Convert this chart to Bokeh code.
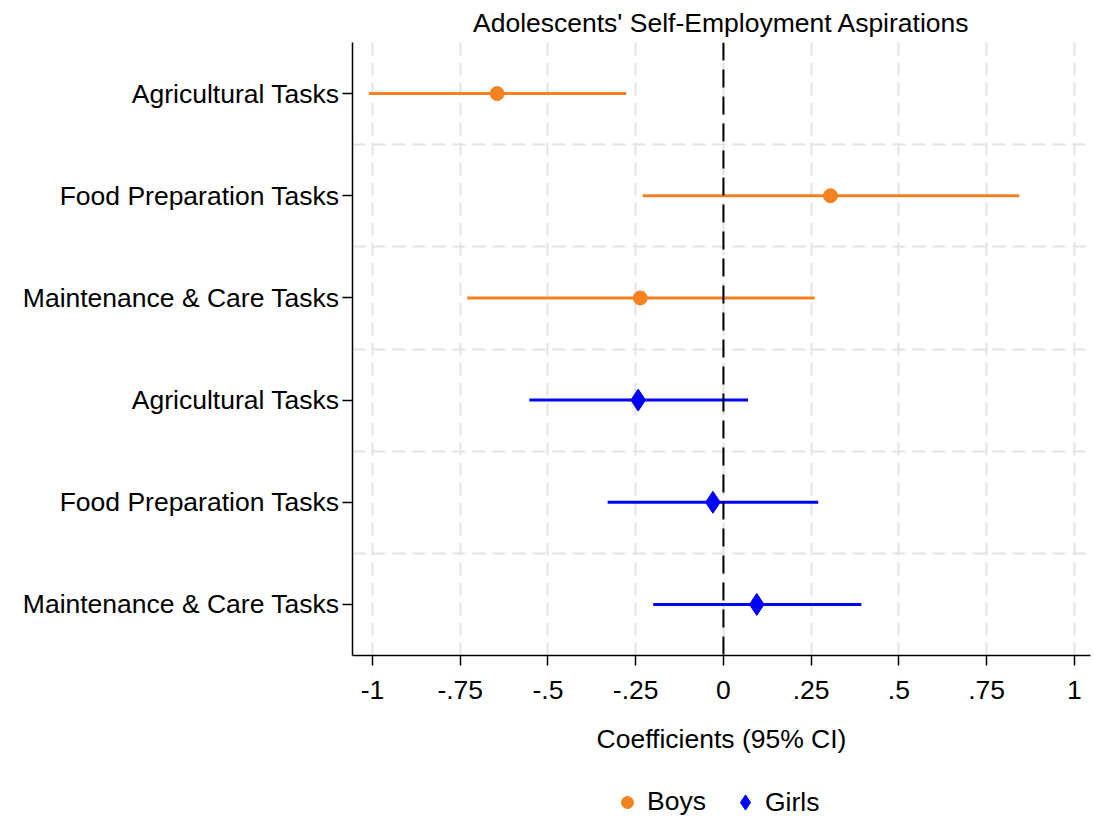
from bokeh.plotting import figure
from bokeh.layouts import column
from bokeh.models import Range1d, FixedTicker, Span, Legend, LegendItem
from bokeh.embed import file_html
from bokeh.resources import INLINE

# ---- data ----
categories = ["Agricultural Tasks", "Food Preparation Tasks", "Maintenance & Care Tasks"]
boys_coef = [-0.645, 0.305, -0.237]
boys_lo = [-1.01, -0.23, -0.73]
boys_hi = [-0.277, 0.843, 0.26]
girls_coef = [-0.243, -0.030, 0.095]
girls_lo = [-0.553, -0.330, -0.200]
girls_hi = [0.070, 0.270, 0.393]
x_ticks = [-1, -0.75, -0.5, -0.25, 0, 0.25, 0.5, 0.75, 1]
x_tick_labels = ["-1", "-.75", "-.5", "-.25", "0", ".25", ".5", ".75", "1"]

FONT = "Liberation Sans"
FS = "26.5px"
ORANGE = "#f58220"
BLUE = "#0000ff"
GRID = "#e3e3e3"

n = len(categories)
boys_y = [2 * n - i for i in range(n)]        # 6,5,4
girls_y = [n - i for i in range(n)]           # 3,2,1

p = figure(frame_width=738, frame_height=613, output_backend="svg", toolbar_location=None,
           x_range=Range1d(-1.057, 1.046), y_range=Range1d(0.5, 6.5),
           min_border_left=352, min_border_right=4, min_border_top=42, min_border_bottom=110)
p.outline_line_color = None
p.background_fill_color = "white"
p.border_fill_color = "white"

p.title.text = "Adolescents' Self-Employment Aspirations"
p.title.align = "center"
p.title.text_font = FONT
p.title.text_font_size = FS
p.title.text_font_style = "normal"
p.title.text_color = "black"
p.title.standoff = 10

# grids
p.xgrid.ticker = FixedTicker(ticks=x_ticks)
p.xgrid.grid_line_color = GRID
p.xgrid.grid_line_width = 2
p.xgrid.grid_line_dash = "13 7"
p.ygrid.ticker = FixedTicker(ticks=[1.5, 2.5, 3.5, 4.5, 5.5])
p.ygrid.grid_line_color = GRID
p.ygrid.grid_line_width = 2
p.ygrid.grid_line_dash = "13 7"

# axes
xa = p.xaxis[0]
xa.ticker = FixedTicker(ticks=x_ticks)
xa.major_label_overrides = dict(zip(x_ticks, x_tick_labels))
xa.axis_label = "Coefficients (95% CI)"
xa.axis_label_text_font = FONT
xa.axis_label_text_font_size = FS
xa.axis_label_text_font_style = "normal"
xa.axis_label_text_color = "black"
xa.axis_label_standoff = 22
xa.major_label_text_font = FONT
xa.major_label_text_font_size = FS
xa.major_label_text_color = "black"
xa.major_label_standoff = 15
xa.major_tick_out = 10
xa.major_tick_in = 0
xa.minor_tick_out = 0
xa.minor_tick_in = 0
xa.axis_line_width = 1.5
xa.major_tick_line_width = 1.5

ya = p.yaxis[0]
ya.ticker = FixedTicker(ticks=boys_y + girls_y)
ya.major_label_overrides = {**{y: c for y, c in zip(boys_y, categories)},
                            **{y: c for y, c in zip(girls_y, categories)}}
ya.major_label_text_font = FONT
ya.major_label_text_font_size = FS
ya.major_label_text_color = "black"
ya.major_label_standoff = 3
ya.major_tick_out = 10
ya.major_tick_in = 0
ya.minor_tick_out = 0
ya.minor_tick_in = 0
ya.axis_line_width = 1.5
ya.major_tick_line_width = 1.5

# zero line
p.add_layout(Span(location=0, dimension="height", line_color="black",
                  line_width=2, line_dash="18 9"))

# CIs
p.segment(x0=boys_lo, x1=boys_hi, y0=boys_y, y1=boys_y, line_color=ORANGE, line_width=3)
p.segment(x0=girls_lo, x1=girls_hi, y0=girls_y, y1=girls_y, line_color=BLUE, line_width=3)

p.scatter(x=boys_coef, y=boys_y, marker="circle", size=14,
          fill_color=ORANGE, line_color=ORANGE)
p.scatter(x=girls_coef, y=girls_y, marker="diamond", size=22,
          fill_color=BLUE, line_color=BLUE)

# ---- legend strip below the chart ----
p2 = figure(frame_width=738, height=822 - 765, output_backend="svg", toolbar_location=None,
            x_axis_location=None, y_axis_location=None,
            x_range=Range1d(0, 1), y_range=Range1d(0, 1),
            min_border_left=352, min_border_right=4, min_border_top=0, min_border_bottom=0)
p2.outline_line_color = None
p2.grid.visible = False
p2.border_fill_color = "white"

# legend keys: same series, hidden in the strip, shown only as legend glyphs
kb = p2.scatter(x=boys_coef, y=boys_y, marker="circle", fill_color=ORANGE, line_color=ORANGE,
                visible=False)
kg = p2.scatter(x=girls_coef, y=girls_y, marker="diamond",
                fill_color=BLUE, line_color=BLUE, visible=False)

common = dict(orientation="horizontal",
              label_text_font=FONT, label_text_font_size=FS, label_text_color="black",
              border_line_color=None, background_fill_alpha=0, inactive_fill_alpha=0,
              padding=0, margin=0)
leg_b = Legend(items=[LegendItem(label="Boys", renderers=[kb])], location=(260, 5),
               glyph_width=30, glyph_height=30, label_standoff=5, **common)
leg_g = Legend(items=[LegendItem(label="Girls", renderers=[kg])], location=(374, 1),
               glyph_width=38, glyph_height=38, label_standoff=1, **common)
p2.add_layout(leg_b, "center")
p2.add_layout(leg_g, "center")

layout = column(p, p2, spacing=0)
open("out.html", "w").write(file_html(layout, INLINE))
